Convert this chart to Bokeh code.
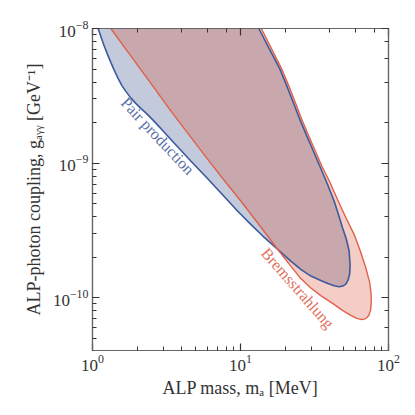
from bokeh.plotting import figure
from bokeh.models import LogAxis, CustomJSTickFormatter, LogTicker
from bokeh.core.properties import value
from bokeh.embed import file_html
from bokeh.resources import INLINE

# ---- data ----
pair_mass = [1.0910, 1.1378, 1.1979, 1.2589, 1.3295, 1.4040, 1.4825, 1.5774, 1.6788,
             1.8149, 1.9614, 2.1205, 2.2918, 2.5552, 2.8941, 3.5590, 4.6148, 5.9841,
             7.5933, 9.5441, 11.737, 14.150, 16.866, 21.875, 25.552, 29.854, 34.875,
             38.893, 42.897, 46.375, 49.120, 51.466, 53.340, 54.598, 55.025, 54.598,
             54.174, 51.867, 48.891, 45.800, 42.897, 38.712, 34.337, 31.035, 28.054,
             25.158, 22.743, 20.555, 18.436, 15.536, 13.295]
pair_coupling = [1.0e-8, 8.750e-9, 7.436e-9, 6.483e-9, 5.607e-9, 4.890e-9, 4.299e-9,
                 3.781e-9, 3.412e-9, 3.053e-9, 2.779e-9, 2.551e-9, 2.361e-9, 2.095e-9,
                 1.811e-9, 1.413e-9, 1.038e-9, 7.694e-10, 5.802e-10, 4.411e-10, 3.513e-10,
                 2.875e-10, 2.423e-10, 1.875e-10, 1.626e-10, 1.450e-10, 1.342e-10,
                 1.275e-10, 1.228e-10, 1.207e-10, 1.222e-10, 1.264e-10, 1.354e-10,
                 1.500e-10, 1.720e-10, 1.973e-10, 2.224e-10, 2.731e-10, 3.315e-10,
                 4.191e-10, 5.237e-10, 6.967e-10, 9.532e-10, 1.232e-9, 1.593e-9,
                 2.113e-9, 2.817e-9, 3.750e-9, 5.015e-9, 7.186e-9, 1.0e-8]

brems_mass = [1.3295, 1.6788, 2.1205, 2.6771, 3.3812, 4.4389, 5.8305, 7.6525, 10.047,
              13.716, 17.871, 21.875, 25.552, 29.854, 34.875, 42.897, 49.120, 55.628,
              61.079, 66.010, 70.244, 73.600, 75.692, 76.522, 76.284, 74.756, 70.244,
              64.489, 58.561, 51.466, 45.233, 40.120, 35.421, 32.017, 28.940, 25.952,
              23.460, 21.203, 19.016, 16.149, 13.823]
brems_coupling = [1.0e-8, 7.028e-9, 4.949e-9, 3.483e-9, 2.444e-9, 1.648e-9, 1.112e-9,
                  7.591e-10, 5.237e-10, 3.355e-10, 2.282e-10, 1.720e-10, 1.389e-10,
                  1.181e-10, 1.038e-10, 8.932e-11, 8.029e-11, 7.397e-11, 7.026e-11,
                  6.884e-11, 7.003e-11, 7.372e-11, 8.098e-11, 9.291e-11, 1.060e-10,
                  1.286e-10, 1.671e-10, 2.224e-10, 2.960e-10, 3.947e-10, 5.373e-10,
                  7.248e-10, 9.532e-10, 1.232e-9, 1.593e-9, 2.113e-9, 2.817e-9,
                  3.750e-9, 4.989e-9, 7.124e-9, 1.0e-8]

labels = ["Pair production", "Bremsstrahlung"]
label_mass = [2.76, 24.4]
label_coupling = [1.59e-9, 1.18e-10]
label_angle = [-0.82, -0.85]

x_range = (1, 100)
y_range = (4.06e-11, 1e-8)

SERIF = "Liberation Serif"
BLUE_LINE = "#3d5a9c"
RED_LINE = "#e0604a"

p = figure(x_axis_type="log", y_axis_type="log",
           x_range=x_range, y_range=y_range,
           frame_width=296, frame_height=322,
           min_border_left=92, min_border_top=28, min_border_right=12, min_border_bottom=40,
           output_backend="svg", toolbar_location=None)

p.background_fill_color = "white"
p.border_fill_color = "white"
p.outline_line_color = "#666666"
p.outline_line_width = 1.2
p.grid.visible = False

# fills
p.patch(pair_mass, pair_coupling, fill_color="#c2cadc", line_color=None)
p.patch(brems_mass, brems_coupling, fill_color=(214, 85, 62), fill_alpha=0.295, line_color=None)
# outlines
p.line(pair_mass, pair_coupling, line_color=BLUE_LINE, line_width=1.6)
p.line(brems_mass, brems_coupling, line_color=RED_LINE, line_width=1.4)

# curve labels
p.text(x=[label_mass[0]], y=[label_coupling[0]], text=[labels[0]], angle=label_angle[0],
       text_font=value(SERIF), text_font_size="16px", text_color="#5b6fa6",
       text_align="center", text_baseline="middle")
p.text(x=[label_mass[1]], y=[label_coupling[1]], text=[labels[1]], angle=label_angle[1],
       text_font=value(SERIF), text_font_size="16px", text_color="#e07060",
       text_align="center", text_baseline="middle")

def style_axis(ax):
    ax.axis_line_color = "#666666"
    ax.axis_line_width = 1.2
    ax.major_tick_in = 7
    ax.major_tick_out = 0
    ax.minor_tick_in = 4
    ax.minor_tick_out = 0
    ax.major_tick_line_color = "#333333"
    ax.minor_tick_line_color = "#333333"
    ax.major_tick_line_width = 1.2
    ax.minor_tick_line_width = 1.0
    ax.major_label_text_font = SERIF
    ax.major_label_text_font_size = "17px"
    ax.major_label_text_color = "#333333"
    ax.axis_label_text_font = SERIF
    ax.axis_label_text_font_size = "18px"
    ax.axis_label_text_font_style = "normal"
    ax.axis_label_text_color = "#333333"

for ax in p.xaxis + p.yaxis:
    style_axis(ax)

p.xaxis.axis_label = "ALP mass, mₐ [MeV]"
p.yaxis.axis_label = "ALP-photon coupling, gₐᵧᵧ [GeV⁻¹]"
p.xaxis.major_label_standoff = 4
p.yaxis.major_label_standoff = 4
p.xaxis.axis_label_standoff = 4
p.yaxis.axis_label_standoff = 6

top = LogAxis(ticker=LogTicker(), formatter=CustomJSTickFormatter(code="return ''"))
right = LogAxis(ticker=LogTicker(), formatter=CustomJSTickFormatter(code="return ''"))
for ax in (top, right):
    style_axis(ax)
    ax.major_label_text_font_size = "1px"
    ax.major_label_standoff = 0
p.add_layout(top, "above")
p.add_layout(right, "right")

open("out.html", "w").write(file_html(p, INLINE))
